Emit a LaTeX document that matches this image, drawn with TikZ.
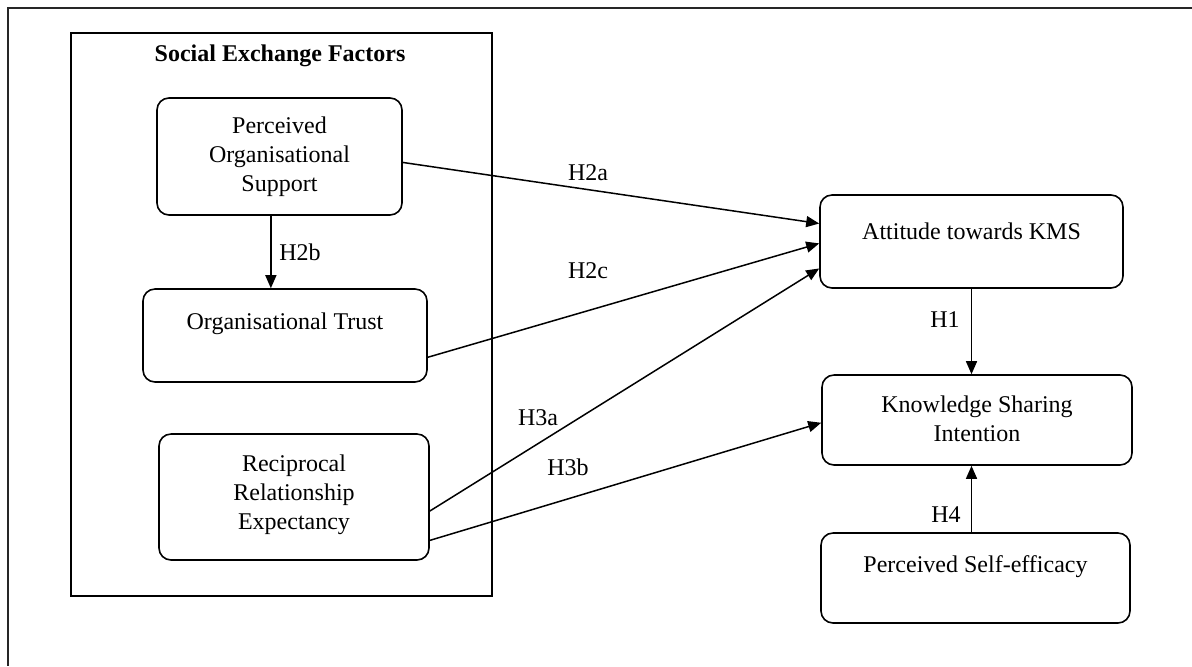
\documentclass[tikz,border=0pt]{standalone}
\usepackage{fontspec}
\setmainfont{Liberation Serif}
\usetikzlibrary{arrows.meta,calc,fit}

\begin{document}
\begin{tikzpicture}[x=0.5pt,y=-0.5pt,
  frame/.style={line width=1.1pt, draw=black!85},
  group/.style={draw, line width=0.8pt, inner sep=0pt},
  box/.style={draw, line width=0.8pt, rounded corners=6pt, inner sep=0pt},
  txt/.style={font=\fontsize{12}{14.5}\selectfont, align=center, inner sep=0pt},
  hyp/.style={font=\fontsize{12}{14.5}\selectfont, inner sep=0pt},
  link/.style={line width=0.75pt, -{Triangle[length=6.5pt,width=5.5pt]}}]

\useasboundingbox (0,0) rectangle (1192,666);

% outer frame (top and left edges)
\coordinate (f-tl) at (8,8);
\coordinate (f-tr) at (1192,8);
\coordinate (f-bl) at (8,666);
\draw[frame] (f-tr) -- (f-tl) -- (f-bl);

% social exchange group
\node[group, fit={(71,33) (492,596)}] (sef) {};
\node[txt, font=\fontsize{12}{14.5}\selectfont\bfseries] (sef-t) at (280,56) {Social Exchange Factors};

% construct boxes
\node[box, fit={(157,98) (402,215)}] (pos) {};
\node[txt] (pos-t) at (279.5,157) {Perceived\\Organisational\\Support};

\node[box, fit={(143,289) (427,382)}] (ot) {};
\node[txt] (ot-t) at (285,324) {Organisational Trust};

\node[box, fit={(159,434) (429,560)}] (rre) {};
\node[txt] (rre-t) at (294,495) {Reciprocal\\Relationship\\Expectancy};

\node[box, fit={(820,195) (1123,288)}] (att) {};
\node[txt] (att-t) at (971.5,231) {Attitude towards KMS};

\node[box, fit={(822,375) (1132,465)}] (ksi) {};
\node[txt] (ksi-t) at (977,419) {Knowledge Sharing\\Intention};

\node[box, fit={(821,533) (1130,623)}] (pse) {};
\node[txt] (pse-t) at (975.5,567) {Perceived Self-efficacy};

% hypothesised paths
\draw[link] ($(pos.south west)!0.465!(pos.south east)$) coordinate (h2b-s)
  -- (h2b-s |- ot.north);
\draw[link] ($(pos.north east)!0.55!(pos.south east)$)
  -- ($(att.north west)!0.31!(att.south west)$);
\draw[link] ($(ot.north east)!0.73!(ot.south east)$)
  -- ($(att.north west)!0.52!(att.south west)$);
\draw[link] ($(rre.north east)!0.61!(rre.south east)$)
  -- ($(att.north west)!0.785!(att.south west)$);
\draw[link] ($(rre.north east)!0.84!(rre.south east)$)
  -- ($(ksi.north west)!0.53!(ksi.south west)$);
\draw[link] (att.south) -- (att.south |- ksi.north);
\draw[link] (att.south |- pse.north) -- (att.south |- ksi.south);

% path labels
\node[hyp] (l-h2a) at (588,173) {H2a};
\node[hyp] (l-h2b) at (300,252) {H2b};
\node[hyp] (l-h2c) at (588,271) {H2c};
\node[hyp] (l-h3a) at (538,418) {H3a};
\node[hyp] (l-h3b) at (568,467) {H3b};
\node[hyp] (l-h1) at (945,320) {H1};
\node[hyp] (l-h4) at (946,515) {H4};

\end{tikzpicture}
\end{document}
